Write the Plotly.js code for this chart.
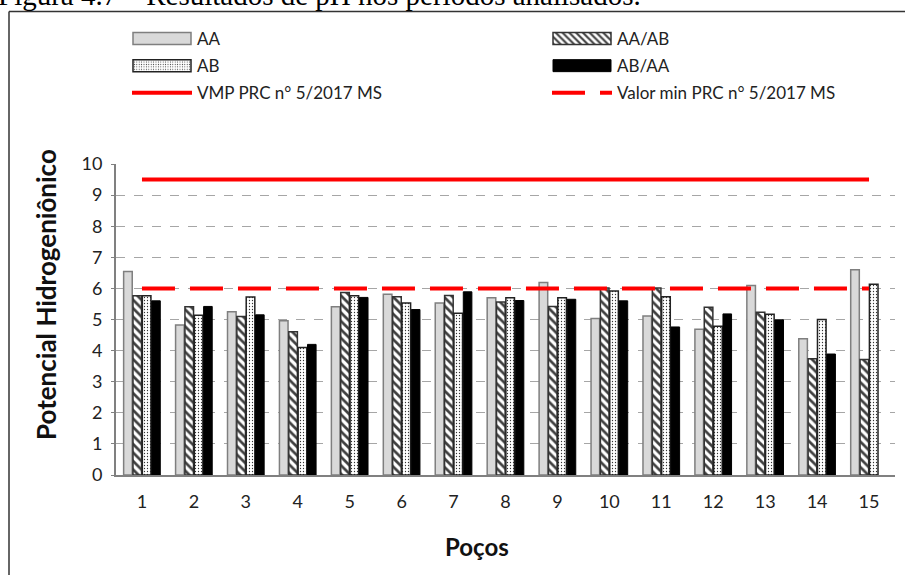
<!DOCTYPE html>
<html>
<head>
<meta charset="utf-8">
<script src="https://cdn.plot.ly/plotly-3.0.1.min.js"></script>
<style>html,body{margin:0;padding:0;background:#fff;}#chart{width:905px;height:575px;}</style>
</head>
<body>
<div id="chart"></div>
<script>
const pocos = ['1','2','3','4','5','6','7','8','9','10','11','12','13','14','15'];
const AA    = [6.54,4.82,5.25,4.96,5.41,5.81,5.53,5.70,6.19,5.03,5.11,4.69,6.09,4.38,6.60];
const AA_AB = [5.76,5.41,5.10,4.61,5.87,5.73,5.77,5.56,5.42,6.01,6.01,5.39,5.23,3.74,3.71];
const AB    = [5.76,5.14,5.72,4.10,5.76,5.53,5.20,5.70,5.70,5.92,5.73,4.78,5.17,5.00,6.13];
const AB_AA = [5.60,5.42,5.15,4.20,5.71,5.32,5.89,5.61,5.65,5.60,4.76,5.18,4.99,3.89,null];
const limX = ['1','15'];
const vmp = [9.5, 9.5];
const valorMin = [6.0, 6.0];
const yTicks = [0,1,2,3,4,5,6,7,8,9,10];

const FONT = 'Lato, "Open Sans", sans-serif';

const traces = [
  {type:'bar', name:'AA', x:pocos, y:AA, legend:'legend', legendgroup:'g1',
   marker:{color:'#d9d9d9', line:{color:'#7f7f7f', width:1.5}}},
  {type:'bar', name:'AA/AB', x:pocos, y:AA_AB, legend:'legend2', legendgroup:'g2',
   marker:{color:'#ffffff', line:{color:'#333333', width:1.5},
           pattern:{shape:'\\', fgcolor:'#404040', bgcolor:'#ffffff', size:6, solidity:0.45}}},
  {type:'bar', name:'AB', x:pocos, y:AB, legend:'legend', legendgroup:'g3',
   marker:{color:'#ffffff', line:{color:'#222222', width:1.5},
           pattern:{shape:'.', fgcolor:'#333333', bgcolor:'#ffffff', size:3, solidity:0.15}}},
  {type:'bar', name:'AB/AA', x:pocos, y:AB_AA, legend:'legend2', legendgroup:'g4',
   marker:{color:'#000000', line:{color:'#000000', width:1}}},
  {type:'scatter', mode:'lines', name:'VMP PRC n° 5/2017 MS', x:limX, y:vmp, legend:'legend', legendgroup:'g5',
   line:{color:'#ff0000', width:4}},
  {type:'scatter', mode:'lines', name:'Valor min PRC n° 5/2017 MS', x:limX, y:valorMin, legend:'legend2', legendgroup:'g6',
   line:{color:'#ff0000', width:4, dash:'33px,15px'}}
];

const plotTop = 164, plotBottom = 475, plotLeft = 116, plotRight = 895;
const ph = plotBottom - plotTop, pw = plotRight - plotLeft;
const py = p => (plotBottom - p) / ph;
const px = p => (p - plotLeft) / pw;

const legendBase = {orientation:'v', xanchor:'left', y:py(21), yanchor:'top',
  itemwidth:60, tracegroupgap:2, font:{family:FONT, size:17, color:'#222222'},
  bgcolor:'rgba(0,0,0,0)', borderwidth:0};

const layout = {
  width:905, height:575,
  margin:{l:plotLeft, r:905-plotRight, t:plotTop, b:575-plotBottom},
  paper_bgcolor:'#ffffff', plot_bgcolor:'#ffffff',
  font:{family:FONT, color:'#222222', size:16},
  barmode:'group', bargap:0.28, bargroupgap:0.08,
  showlegend:true,
  legend:Object.assign({}, legendBase, {x:px(127)}),
  legend2:Object.assign({}, legendBase, {x:px(547)}),
  xaxis:{type:'category', showgrid:false, showline:true, linecolor:'#808080', linewidth:2,
         ticks:'', ticklabelstandoff:9, tickfont:{family:FONT, size:18, color:'#222222'},
         fixedrange:true},
  yaxis:{range:[0,10], tickvals:yTicks, showgrid:true, gridcolor:'#a6a6a6', griddash:'dash', gridwidth:1,
         showline:true, linecolor:'#808080', linewidth:2, ticks:'outside', ticklen:3, tickcolor:'#808080',
         ticklabelstandoff:5, tickfont:{family:FONT, size:18, color:'#222222'}, zeroline:false,
         fixedrange:true},
  shapes:[
    {type:'line', xref:'paper', yref:'paper', x0:px(9), x1:px(910), y0:py(11.5), y1:py(11.5), line:{color:'#333333', width:1.5}},
    {type:'line', xref:'paper', yref:'paper', x0:px(9), x1:px(9), y0:py(11.5), y1:py(590), line:{color:'#333333', width:1.5}}
  ],
  annotations:[
    {xref:'paper', yref:'paper', x:px(-4), y:py(-5), xanchor:'left', yanchor:'middle', showarrow:false,
     text:'Figura 4.7 – Resultados de pH nos períodos analisados.',
     font:{family:'"Liberation Serif", "Times New Roman", serif', size:29, color:'#000000'}},
    {xref:'paper', yref:'paper', x:px(477), y:py(546), xanchor:'center', yanchor:'middle', showarrow:false,
     text:'<b>Poços</b>', font:{family:FONT, size:24, color:'#111111'}},
    {xref:'paper', yref:'paper', x:px(46), y:py(295), xanchor:'center', yanchor:'middle', showarrow:false,
     textangle:-90, text:'<b>Potencial Hidrogeniônico</b>', font:{family:FONT, size:26, color:'#111111'}}
  ]
};

Plotly.newPlot('chart', traces, layout, {displayModeBar:false, staticPlot:true}).then(gd => {
  gd.querySelectorAll('.legendpoints path').forEach(p => {
    const d = (p.getAttribute('d') || '').replace(/\s/g, '');
    if (d === 'M6,6H-6V-6H6Z') p.setAttribute('d', 'M29,6H-29V-6H29Z');
  });
});
</script>
</body>
</html>
